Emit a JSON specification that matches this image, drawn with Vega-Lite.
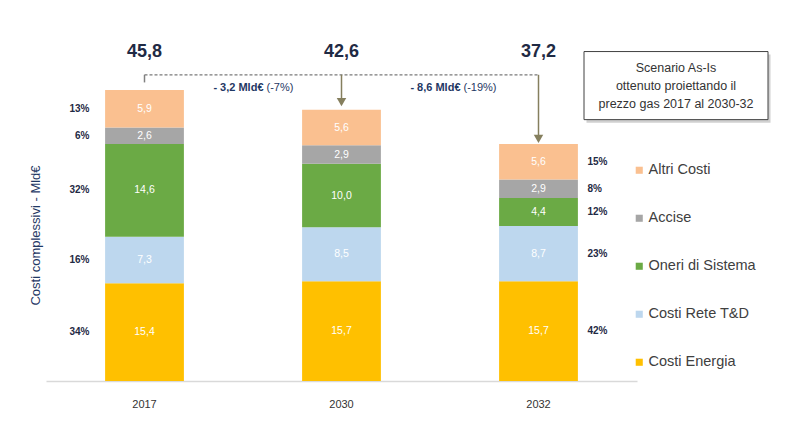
{
  "$schema": "https://vega.github.io/schema/vega-lite/v6.json",
  "width": 591,
  "height": 371,
  "autosize": {"type": "none"},
  "padding": {"left": 46, "top": 10, "right": 163, "bottom": 55},
  "background": "white",
  "config": {
    "view": {"stroke": null},
    "font": "Liberation Sans",
    "locale": {"number": {"decimal": ",", "thousands": ".", "grouping": [3], "currency": ["", "€"]}}
  },
  "data": {
    "values": [
      {"year": "2017", "cat": "Costi Energia", "value": 15.4, "ord": 1, "pct": "34%"},
      {"year": "2017", "cat": "Costi Rete T&D", "value": 7.3, "ord": 2, "pct": "16%"},
      {"year": "2017", "cat": "Oneri di Sistema", "value": 14.6, "ord": 3, "pct": "32%"},
      {"year": "2017", "cat": "Accise", "value": 2.6, "ord": 4, "pct": "6%"},
      {"year": "2017", "cat": "Altri Costi", "value": 5.9, "ord": 5, "pct": "13%"},
      {"year": "2030", "cat": "Costi Energia", "value": 15.7, "ord": 1, "pct": ""},
      {"year": "2030", "cat": "Costi Rete T&D", "value": 8.5, "ord": 2, "pct": ""},
      {"year": "2030", "cat": "Oneri di Sistema", "value": 10.0, "ord": 3, "pct": ""},
      {"year": "2030", "cat": "Accise", "value": 2.9, "ord": 4, "pct": ""},
      {"year": "2030", "cat": "Altri Costi", "value": 5.6, "ord": 5, "pct": ""},
      {"year": "2032", "cat": "Costi Energia", "value": 15.7, "ord": 1, "pct": "42%"},
      {"year": "2032", "cat": "Costi Rete T&D", "value": 8.7, "ord": 2, "pct": "23%"},
      {"year": "2032", "cat": "Oneri di Sistema", "value": 4.4, "ord": 3, "pct": "12%"},
      {"year": "2032", "cat": "Accise", "value": 2.9, "ord": 4, "pct": "8%"},
      {"year": "2032", "cat": "Altri Costi", "value": 5.6, "ord": 5, "pct": "15%"}
    ]
  },
  "layer": [
    {
      "transform": [
        {"stack": "value", "groupby": ["year"], "sort": [{"field": "ord", "order": "ascending"}], "as": ["v0", "v1"]},
        {"calculate": "(datum.v0 + datum.v1) / 2", "as": "mid"}
      ],
      "layer": [
        {
          "mark": {"type": "bar"},
          "encoding": {
            "x": {
              "field": "year", "type": "nominal",
              "scale": {"domain": ["2017", "2030", "2032"], "paddingInner": 0.6, "paddingOuter": 0.3},
              "axis": {"title": null, "labelAngle": 0, "labelFontSize": 11, "labelColor": "#333333", "labelPadding": 17, "ticks": false, "domainColor": "#D9D9D9", "domainWidth": 1.5}
            },
            "y": {
              "field": "v0", "type": "quantitative",
              "scale": {"domain": [0, 58.4], "nice": false, "zero": true},
              "axis": {"title": "Costi complessivi - Mld€", "labels": false, "ticks": false, "domain": false, "grid": false, "titleFontSize": 13, "titleFontWeight": "normal", "titleColor": "#1F3864", "titleX": -11, "titleY": 225, "titleBaseline": "middle", "titleAngle": -90, "titleAlign": "center"}
            },
            "y2": {"field": "v1"},
            "color": {
              "field": "cat", "type": "nominal",
              "scale": {
                "domain": ["Altri Costi", "Accise", "Oneri di Sistema", "Costi Rete T&D", "Costi Energia"],
                "range": ["#FAC090", "#A6A6A6", "#6BAA45", "#BDD7EE", "#FFC000"]
              },
              "legend": {"orient": "none", "legendX": 586, "legendY": 153, "title": null, "symbolType": "square", "symbolSize": 50, "labelFontSize": 14.5, "labelColor": "#404040", "rowPadding": 33, "labelOffset": 2, "symbolStrokeWidth": 0}
            }
          }
        },
        {
          "mark": {"type": "text", "color": "white", "fontSize": 10.5},
          "encoding": {
            "x": {"field": "year", "type": "nominal"},
            "y": {"field": "mid", "type": "quantitative"},
            "text": {"field": "value", "type": "quantitative", "format": ".1f"}
          }
        },
        {
          "transform": [{"filter": "datum.year === '2017'"}],
          "mark": {"type": "text", "align": "right", "dx": -55, "fontSize": 10, "fontWeight": "bold", "color": "#1F2A44"},
          "encoding": {
            "x": {"field": "year", "type": "nominal"},
            "y": {"field": "mid", "type": "quantitative"},
            "text": {"field": "pct", "type": "nominal"}
          }
        },
        {
          "transform": [{"filter": "datum.year === '2032'"}],
          "mark": {"type": "text", "align": "left", "dx": 49, "fontSize": 10, "fontWeight": "bold", "color": "#1F2A44"},
          "encoding": {
            "x": {"field": "year", "type": "nominal"},
            "y": {"field": "mid", "type": "quantitative"},
            "text": {"field": "pct", "type": "nominal"}
          }
        }
      ]
    },
    {
      "data": {"values": [{"year": "2017", "total": 45.8, "ty": 51.8}, {"year": "2030", "total": 42.6, "ty": 51.8}, {"year": "2032", "total": 37.2, "ty": 51.8}]},
      "mark": {"type": "text", "fontSize": 18, "fontWeight": "bold", "color": "#1F2A44"},
      "encoding": {
        "x": {"field": "year", "type": "nominal"},
        "y": {"field": "ty", "type": "quantitative"},
        "text": {"field": "total", "type": "quantitative", "format": ".1f"}
      }
    },
    {
      "data": {"values": [{"year": "2017", "y": 48.2}, {"year": "2032", "y": 48.2}]},
      "mark": {"type": "line", "color": "#7A7A7A", "strokeDash": [3, 2], "strokeWidth": 1.3},
      "encoding": {
        "x": {"field": "year", "type": "nominal"},
        "y": {"field": "y", "type": "quantitative"}
      }
    },
    {
      "data": {"values": [{"year": "2017", "top": 48.2, "tip": 47.0, "kind": "tick"}, {"year": "2030", "top": 48.2, "tip": 43.9, "kind": "arrow"}, {"year": "2032", "top": 48.2, "tip": 38.1, "kind": "arrow"}]},
      "layer": [
        {
          "mark": {"type": "rule", "strokeWidth": 1.5},
          "encoding": {
            "x": {"field": "year", "type": "nominal"},
            "y": {"field": "top", "type": "quantitative"},
            "y2": {"field": "tip"},
            "color": {"condition": {"test": "datum.kind === 'tick'", "value": "#808080"}, "value": "#857F5E"}
          }
        },
        {
          "transform": [{"filter": "datum.kind === 'arrow'"}],
          "mark": {"type": "point", "shape": "triangle-down", "filled": true, "size": 90, "color": "#857F5E", "opacity": 1},
          "encoding": {
            "x": {"field": "year", "type": "nominal"},
            "y": {"field": "tip", "type": "quantitative"}
          }
        }
      ]
    },
    {
      "data": {"values": [{"year": "2017", "a": "- 3,2 Mld€", "b": "(-7%)", "ly": 46.2}, {"year": "2030", "a": "- 8,6 Mld€", "b": "(-19%)", "ly": 46.2}]},
      "layer": [
        {
          "mark": {"type": "text", "align": "right", "dx": 119, "fontSize": 11, "fontWeight": "bold", "color": "#1F3864"},
          "encoding": {
            "x": {"field": "year", "type": "nominal"},
            "y": {"field": "ly", "type": "quantitative"},
            "text": {"field": "a", "type": "nominal"}
          }
        },
        {
          "mark": {"type": "text", "align": "left", "dx": 122, "fontSize": 11, "color": "#1F3864"},
          "encoding": {
            "x": {"field": "year", "type": "nominal"},
            "y": {"field": "ly", "type": "quantitative"},
            "text": {"field": "b", "type": "nominal"}
          }
        }
      ]
    },
    {
      "data": {"values": [{"year": "2032", "by": 46.5, "note": ["Scenario As-Is", "ottenuto proiettando il", "prezzo gas 2017 al 2030-32"]}]},
      "layer": [
        {
          "mark": {"type": "point", "shape": "M-1,-0.37L1,-0.37L1,0.37L-1,0.37Z", "size": 33856, "filled": true, "color": "#D0D0D0", "opacity": 1, "xOffset": 140, "yOffset": 3},
          "encoding": {"x": {"field": "year", "type": "nominal"}, "y": {"field": "by", "type": "quantitative"}}
        },
        {
          "mark": {"type": "point", "shape": "M-1,-0.37L1,-0.37L1,0.37L-1,0.37Z", "size": 33856, "filled": true, "fill": "white", "stroke": "#404040", "strokeWidth": 1, "opacity": 1, "xOffset": 137.5},
          "encoding": {"x": {"field": "year", "type": "nominal"}, "y": {"field": "by", "type": "quantitative"}}
        },
        {
          "mark": {"type": "text", "dx": 137.5, "dy": -18, "baseline": "middle", "lineHeight": 18, "fontSize": 12.5, "color": "#333333"},
          "encoding": {
            "x": {"field": "year", "type": "nominal"},
            "y": {"field": "by", "type": "quantitative"},
            "text": {"field": "note"}
          }
        }
      ]
    }
  ]
}
